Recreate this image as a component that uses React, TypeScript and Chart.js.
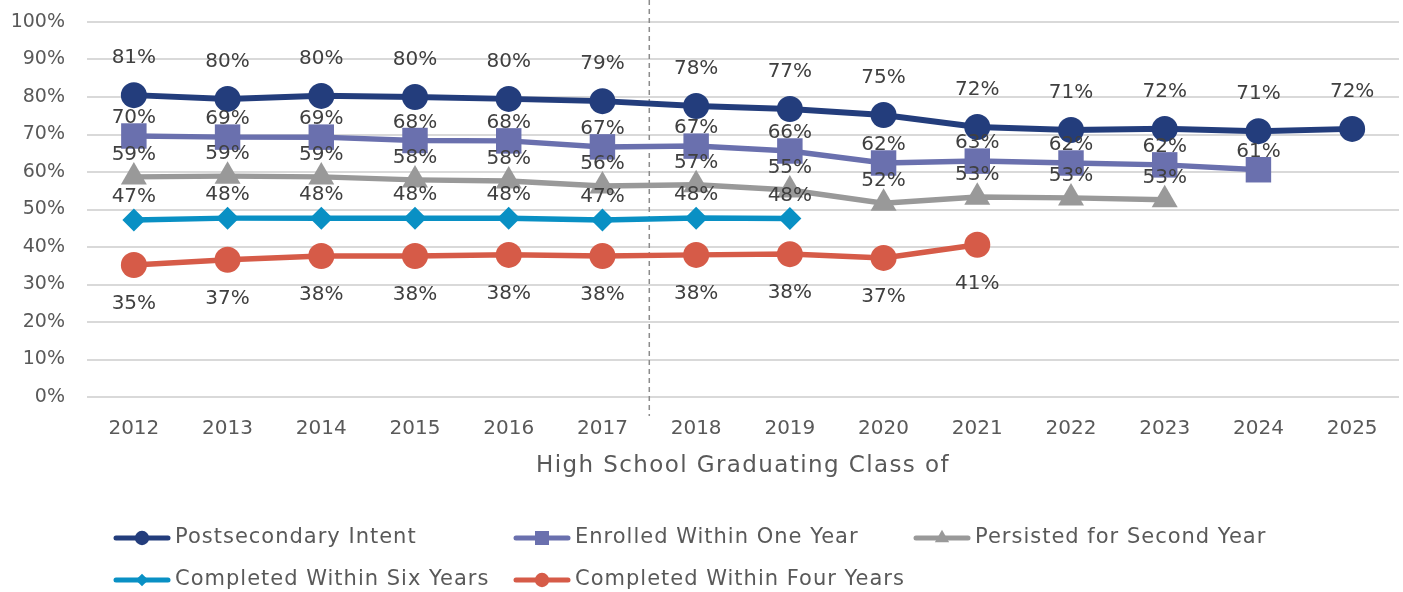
import React, { useEffect, useRef } from "react";
import { Chart, registerables } from "chart.js";

Chart.register(...registerables);

const years = ["2012", "2013", "2014", "2015", "2016", "2017", "2018", "2019", "2020", "2021", "2022", "2023", "2024", "2025"];
const postsecondaryIntent = [80.5, 79.5, 80.3, 80.0, 79.5, 78.9, 77.6, 76.8, 75.2, 72.0, 71.2, 71.5, 70.9, 71.5];
const enrolledWithinOneYear = [69.6, 69.3, 69.3, 68.4, 68.3, 66.7, 66.9, 65.6, 62.4, 62.9, 62.4, 61.9, 60.6, null];
const persistedSecondYear = [58.7, 58.9, 58.7, 57.9, 57.6, 56.3, 56.6, 55.2, 51.7, 53.3, 53.1, 52.6, null, null];
const completedSixYears = [47.2, 47.7, 47.7, 47.7, 47.7, 47.2, 47.7, 47.6, null, null, null, null, null, null];
const completedFourYears = [35.2, 36.6, 37.6, 37.6, 37.9, 37.6, 37.9, 38.1, 37.1, 40.6, null, null, null, null];
const yTicks = [0, 10, 20, 30, 40, 50, 60, 70, 80, 90, 100];
const seriesNames = ["Postsecondary Intent", "Enrolled Within One Year", "Persisted for Second Year", "Completed Within Six Years", "Completed Within Four Years"];
const xTitle = "High School Graduating Class of";

const COLORS = ["#233D7C", "#6A70AE", "#999999", "#0990C4", "#D65B48"];
const STYLES = ["circle", "rect", "triangle", "rectRot", "circle"];
const RADII = [13, 18, 15, 11.5, 13];
const LABEL_OFFSETS = [-37, -18, -22, -23, 39];
const FONT = '"DejaVu Sans", sans-serif';

const labelPlugin = {
  id: "pctLabels",
  afterDatasetsDraw(chart: any) {
    const ctx = chart.ctx;
    ctx.save();
    ctx.font = `20px ${FONT}`;
    ctx.fillStyle = "#404040";
    ctx.textAlign = "center";
    ctx.textBaseline = "middle";
    chart.data.datasets.forEach((ds: any, i: number) => {
      const meta = chart.getDatasetMeta(i);
      meta.data.forEach((pt: any, j: number) => {
        const v = ds.data[j];
        if (v == null) return;
        ctx.fillText(Math.round(v) + "%", pt.x, pt.y + LABEL_OFFSETS[i]);
      });
    });
    ctx.restore();
  },
};

const decorPlugin = {
  id: "decor",
  beforeDatasetsDraw(chart: any) {
    const ctx = chart.ctx;
    const x = chart.scales.x;
    const x1 = x.getPixelForValue(5);
    const x2 = x.getPixelForValue(6);
    const xm = (x1 + x2) / 2;
    ctx.save();
    ctx.strokeStyle = "#8C8C8C";
    ctx.lineWidth = 1.5;
    ctx.setLineDash([5, 4]);
    ctx.beginPath();
    ctx.moveTo(xm, 0);
    ctx.lineTo(xm, 416);
    ctx.stroke();
    ctx.restore();
  },
  afterDraw(chart: any) {
    const ctx = chart.ctx;
    const area = chart.chartArea;
    ctx.save();
    ctx.font = `23px ${FONT}`;
    (ctx as any).letterSpacing = "1.4px";
    ctx.fillStyle = "#595959";
    ctx.textAlign = "center";
    ctx.textBaseline = "middle";
    ctx.fillText(xTitle, (area.left + area.right) / 2, 466);

    // legend
    const cols = [116, 516, 916];
    const rows = [538, 580];
    ctx.font = `21px ${FONT}`;
    (ctx as any).letterSpacing = "1px";
    ctx.textAlign = "left";
    seriesNames.forEach((name, i) => {
      const cx = cols[i % 3];
      const cy = rows[Math.floor(i / 3)];
      ctx.strokeStyle = COLORS[i];
      ctx.lineWidth = 5;
      ctx.lineCap = "round";
      ctx.beginPath();
      ctx.moveTo(cx, cy);
      ctx.lineTo(cx + 52, cy);
      ctx.stroke();
      ctx.fillStyle = COLORS[i];
      const r = RADII[i] * 0.55;
      ctx.beginPath();
      const mx = cx + 26;
      if (STYLES[i] === "circle") {
        ctx.arc(mx, cy, r, 0, Math.PI * 2);
      } else if (STYLES[i] === "rect") {
        const s = r * Math.SQRT1_2;
        ctx.rect(mx - s, cy - s, 2 * s, 2 * s);
      } else if (STYLES[i] === "triangle") {
        ctx.moveTo(mx, cy - r);
        ctx.lineTo(mx + r * 0.866, cy + r * 0.5);
        ctx.lineTo(mx - r * 0.866, cy + r * 0.5);
        ctx.closePath();
      } else {
        ctx.moveTo(mx, cy - r);
        ctx.lineTo(mx + r, cy);
        ctx.lineTo(mx, cy + r);
        ctx.lineTo(mx - r, cy);
        ctx.closePath();
      }
      ctx.fill();
      ctx.fillStyle = "#595959";
      ctx.fillText(name, cx + 59, cy);
    });
    ctx.restore();
  },
};

export default function App() {
  const ref = useRef<HTMLCanvasElement>(null);
  useEffect(() => {
    if (!ref.current) return;
    const seriesData = [postsecondaryIntent, enrolledWithinOneYear, persistedSecondYear, completedSixYears, completedFourYears];
    const chart = new Chart(ref.current, {
      type: "line",
      data: {
        labels: years,
        datasets: seriesData.map((d, i) => ({
          label: seriesNames[i],
          data: d as any,
          borderColor: COLORS[i],
          backgroundColor: COLORS[i],
          borderWidth: i === 0 ? 6 : 5.5,
          pointStyle: STYLES[i] as any,
          pointRadius: RADII[i],
          pointHoverRadius: RADII[i],
          pointBorderWidth: 0,
          pointBackgroundColor: COLORS[i],
          tension: 0,
          spanGaps: false,
        })),
      },
      options: {
        responsive: false,
        animation: false,
        events: [],
        layout: { autoPadding: false, padding: { left: 0, right: 4, top: 22, bottom: 0 } },
        plugins: {
          legend: { display: false },
          tooltip: { enabled: false },
          title: { display: false },
        },
        scales: {
          x: {
            type: "category",
            offset: true,
            grid: { display: false, drawTicks: false },
            border: { display: false },
            ticks: {
              padding: 20,
              color: "#595959",
              font: { family: FONT, size: 20 },
              maxRotation: 0,
              autoSkip: false,
            },
            afterFit: (s: any) => {
              s.height = 195;
              s.paddingLeft = 0;
              s.paddingRight = 0;
            },
          },
          y: {
            min: 0,
            max: 100,
            afterBuildTicks: (s: any) => {
              s.ticks = yTicks.map((v) => ({ value: v }));
            },
            grid: { color: "#D9D9D9", lineWidth: 2, drawTicks: false },
            border: { display: false },
            ticks: {
              padding: 22,
              color: "#595959",
              font: { family: FONT, size: 19 },
              callback: (v: any) => v + "%",
            },
            afterFit: (s: any) => {
              s.width = 87;
              s.paddingTop = 0;
              s.paddingBottom = 0;
            },
          },
        },
      },
      plugins: [labelPlugin, decorPlugin],
    });
    return () => chart.destroy();
  }, []);
  return (
    <div style={{ position: "fixed", left: 0, top: 0, width: 1403, height: 592, background: "#fff" }}>
      <canvas ref={ref} width={1403} height={592} style={{ width: 1403, height: 592, display: "block" }} />
    </div>
  );
}
